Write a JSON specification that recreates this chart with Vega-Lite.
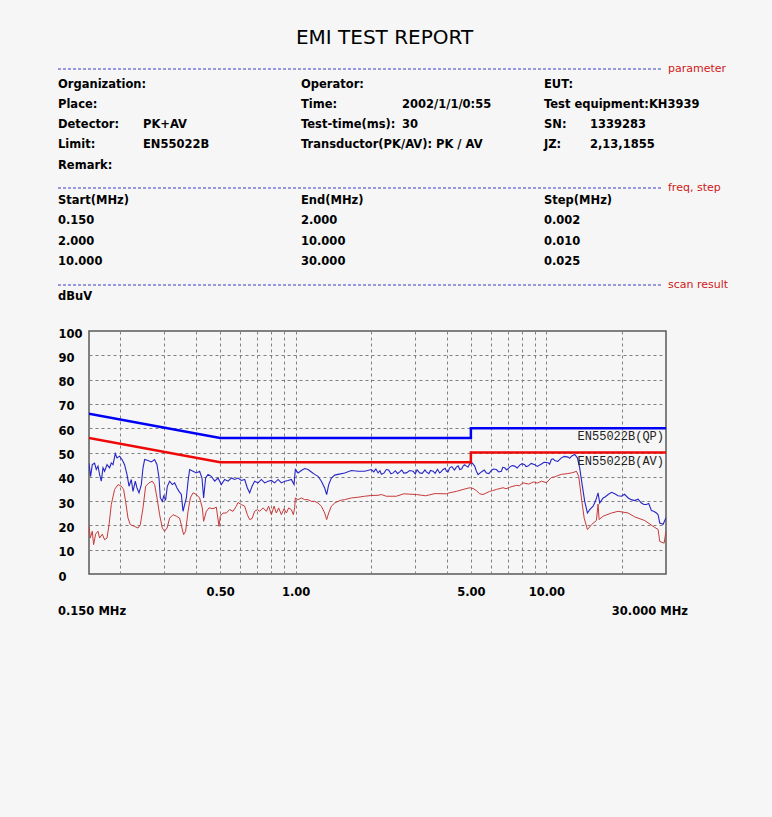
{
  "$schema": "https://vega.github.io/schema/vega-lite/v6.json",
  "background": "#f6f6f6",
  "padding": {"left": 57, "top": 0, "right": 43, "bottom": 200},
  "spacing": 17,
  "config": {"font": "DejaVu Sans", "view": {"stroke": null}},
  "datasets": {
    "header": [
      {"kind": "title", "line": 0, "text": "EMI TEST REPORT"},
      {"kind": "section", "line": 1, "col": 6, "text": "parameter"},
      {"kind": "cell", "line": 2, "col": 0, "text": "Organization:"},
      {"kind": "cell", "line": 2, "col": 2, "text": "Operator:"},
      {"kind": "cell", "line": 2, "col": 4, "text": "EUT:"},
      {"kind": "cell", "line": 3, "col": 0, "text": "Place:"},
      {"kind": "cell", "line": 3, "col": 2, "text": "Time:"},
      {"kind": "cell", "line": 3, "col": 3, "text": "2002/1/1/0:55"},
      {"kind": "cell", "line": 3, "col": 4, "text": "Test equipment:KH3939"},
      {"kind": "cell", "line": 4, "col": 0, "text": "Detector:"},
      {"kind": "cell", "line": 4, "col": 1, "text": "PK+AV"},
      {"kind": "cell", "line": 4, "col": 2, "text": "Test-time(ms):"},
      {"kind": "cell", "line": 4, "col": 3, "text": "30"},
      {"kind": "cell", "line": 4, "col": 4, "text": "SN:"},
      {"kind": "cell", "line": 4, "col": 5, "text": "1339283"},
      {"kind": "cell", "line": 5, "col": 0, "text": "Limit:"},
      {"kind": "cell", "line": 5, "col": 1, "text": "EN55022B"},
      {"kind": "cell", "line": 5, "col": 2, "text": "Transductor(PK/AV): PK / AV"},
      {"kind": "cell", "line": 5, "col": 4, "text": "JZ:"},
      {"kind": "cell", "line": 5, "col": 5, "text": "2,13,1855"},
      {"kind": "cell", "line": 6, "col": 0, "text": "Remark:"},
      {"kind": "section", "line": 7, "col": 6, "text": "freq, step"},
      {"kind": "cell", "line": 8, "col": 0, "text": "Start(MHz)"},
      {"kind": "cell", "line": 8, "col": 2, "text": "End(MHz)"},
      {"kind": "cell", "line": 8, "col": 4, "text": "Step(MHz)"},
      {"kind": "cell", "line": 9, "col": 0, "text": "0.150"},
      {"kind": "cell", "line": 9, "col": 2, "text": "2.000"},
      {"kind": "cell", "line": 9, "col": 4, "text": "0.002"},
      {"kind": "cell", "line": 10, "col": 0, "text": "2.000"},
      {"kind": "cell", "line": 10, "col": 2, "text": "10.000"},
      {"kind": "cell", "line": 10, "col": 4, "text": "0.010"},
      {"kind": "cell", "line": 11, "col": 0, "text": "10.000"},
      {"kind": "cell", "line": 11, "col": 2, "text": "30.000"},
      {"kind": "cell", "line": 11, "col": 4, "text": "0.025"},
      {"kind": "section", "line": 12, "col": 6, "text": "scan result"},
      {"kind": "cell", "line": 13, "col": 0, "text": "dBuV"}
    ],
    "limits": [
      {"lim": "QP", "i": 0, "f": 0.15, "db": 66},
      {"lim": "QP", "i": 1, "f": 0.5, "db": 56},
      {"lim": "QP", "i": 2, "f": 5, "db": 56},
      {"lim": "QP", "i": 3, "f": 5, "db": 60},
      {"lim": "QP", "i": 4, "f": 30, "db": 60},
      {"lim": "AV", "i": 0, "f": 0.15, "db": 56},
      {"lim": "AV", "i": 1, "f": 0.5, "db": 46},
      {"lim": "AV", "i": 2, "f": 5, "db": 46},
      {"lim": "AV", "i": 3, "f": 5, "db": 50},
      {"lim": "AV", "i": 4, "f": 30, "db": 50}
    ],
    "limlabels": [
      {"f": 30, "db": 60, "label": "EN55022B(QP)"},
      {"f": 30, "db": 50, "label": "EN55022B(AV)"}
    ],
    "ends": [
      {"f": 0.15, "db": 0, "label": "0.150 MHz", "side": "L"},
      {"f": 30, "db": 0, "label": "30.000 MHz", "side": "R"}
    ],
    "pk": [
      {"f":0.15,"db":45.5},{"f":0.1522,"db":40.2},{"f":0.1546,"db":45},{"f":0.1579,"db":45.6},{"f":0.1604,"db":43},{"f":0.1629,"db":44.4},{"f":0.1653,"db":41},{"f":0.1679,"db":38.2},{"f":0.1706,"db":43.7},{"f":0.1731,"db":42.3},{"f":0.177,"db":45},{"f":0.1812,"db":43.7},{"f":0.1841,"db":45.7},{"f":0.187,"db":45},{"f":0.191,"db":49.5},{"f":0.194,"db":47.8},{"f":0.1987,"db":48.5},{"f":0.2031,"db":47.1},{"f":0.208,"db":45},{"f":0.2127,"db":40.9},{"f":0.2166,"db":36.1},{"f":0.2212,"db":38.9},{"f":0.2247,"db":34},{"f":0.2295,"db":38.2},{"f":0.2331,"db":35.4},{"f":0.2374,"db":33.4},{"f":0.2425,"db":36.8},{"f":0.2463,"db":43.7},{"f":0.25,"db":47.1},{"f":0.2579,"db":46.7},{"f":0.2658,"db":46.1},{"f":0.274,"db":47.1},{"f":0.2801,"db":45},{"f":0.2853,"db":39.5},{"f":0.2888,"db":31.3},{"f":0.2941,"db":29.9},{"f":0.2977,"db":32},{"f":0.3032,"db":30.6},{"f":0.3079,"db":36.1},{"f":0.3145,"db":38.2},{"f":0.3224,"db":36.8},{"f":0.3293,"db":37.5},{"f":0.3366,"db":35.4},{"f":0.3428,"db":34},{"f":0.3502,"db":32.7},{"f":0.3557,"db":25.8},{"f":0.361,"db":28.6},{"f":0.3667,"db":31.3},{"f":0.3725,"db":38.2},{"f":0.378,"db":43},{"f":0.3899,"db":42.3},{"f":0.4019,"db":41.6},{"f":0.4143,"db":42.3},{"f":0.4234,"db":39.5},{"f":0.4297,"db":31.3},{"f":0.4377,"db":39.5},{"f":0.4475,"db":41},{"f":0.4612,"db":40.2},{"f":0.4754,"db":38.2},{"f":0.4905,"db":39.5},{"f":0.5056,"db":36.8},{"f":0.5212,"db":38.9},{"f":0.5377,"db":38.2},{"f":0.5542,"db":39.5},{"f":0.5713,"db":38.9},{"f":0.5894,"db":39.5},{"f":0.6076,"db":38.5},{"f":0.6264,"db":38.9},{"f":0.642,"db":35.4},{"f":0.6558,"db":33.4},{"f":0.6704,"db":36.1},{"f":0.6866,"db":38.2},{"f":0.7083,"db":37.5},{"f":0.7302,"db":38.9},{"f":0.7526,"db":37.5},{"f":0.7764,"db":38.2},{"f":0.8004,"db":38.5},{"f":0.825,"db":37.5},{"f":0.8513,"db":38.9},{"f":0.8775,"db":37.5},{"f":0.9044,"db":38.2},{"f":0.9332,"db":38.5},{"f":0.9618,"db":38.9},{"f":0.9858,"db":36.8},{"f":0.9977,"db":43},{"f":1.023,"db":41.6},{"f":1.054,"db":42.6},{"f":1.087,"db":43.4},{"f":1.121,"db":43},{"f":1.156,"db":42},{"f":1.191,"db":41},{"f":1.229,"db":40.2},{"f":1.267,"db":38.2},{"f":1.306,"db":35.4},{"f":1.33,"db":32.7},{"f":1.355,"db":36.8},{"f":1.389,"db":39.5},{"f":1.432,"db":40.7},{"f":1.477,"db":41},{"f":1.569,"db":41.6},{"f":1.669,"db":42.6},{"f":1.775,"db":42.3},{"f":1.886,"db":42.3},{"f":2.005,"db":43},{"f":2.132,"db":41.6},{"f":2.198,"db":41},{"f":2.301,"db":43},{"f":2.448,"db":41.6},{"f":2.601,"db":42},{"f":2.766,"db":41.6},{"f":2.941,"db":42.3},{"f":3.125,"db":41.6},{"f":3.322,"db":42},{"f":3.534,"db":42.3},{"f":3.754,"db":41.6},{"f":3.874,"db":43},{"f":3.993,"db":42.3},{"f":4.117,"db":43.7},{"f":4.377,"db":44},{"f":4.513,"db":43},{"f":4.655,"db":44.4},{"f":4.798,"db":44.4},{"f":4.946,"db":45.3},{"f":5.056,"db":45.7},{"f":5.178,"db":44.4},{"f":5.26,"db":42.3},{"f":5.343,"db":40.9},{"f":5.507,"db":42},{"f":5.767,"db":41.6},{"f":6.037,"db":42.6},{"f":6.321,"db":43},{"f":6.618,"db":42.3},{"f":6.822,"db":43.7},{"f":7.142,"db":44},{"f":7.478,"db":44.4},{"f":7.829,"db":44.8},{"f":8.196,"db":45},{"f":8.456,"db":44.4},{"f":8.985,"db":45},{"f":9.556,"db":45.3},{"f":10.16,"db":45.8},{"f":10.47,"db":47.1},{"f":10.8,"db":46.7},{"f":11.48,"db":47.8},{"f":12.21,"db":48.1},{"f":12.59,"db":48.5},{"f":12.98,"db":49.2},{"f":13.3,"db":47.8},{"f":13.58,"db":43.7},{"f":13.89,"db":36.8},{"f":14.22,"db":29.9},{"f":14.58,"db":25.1},{"f":14.89,"db":26.5},{"f":15.36,"db":27.9},{"f":15.69,"db":29.9},{"f":16.08,"db":33.4},{"f":16.32,"db":29.2},{"f":16.84,"db":31.3},{"f":17.63,"db":32.7},{"f":18.74,"db":33},{"f":19.93,"db":32},{"f":21.19,"db":31.3},{"f":22.51,"db":30.2},{"f":23.94,"db":29.2},{"f":25.07,"db":28.6},{"f":26.24,"db":26.1},{"f":27.48,"db":25.1},{"f":28.32,"db":21},{"f":29.22,"db":20.5},{"f":30,"db":23.2},
      {"f":2.05,"db":42.0},{"f":2.09,"db":43.2},{"f":2.17,"db":42.5},{"f":2.25,"db":41.5},{"f":2.35,"db":42.8},{"f":2.4,"db":41.2},{"f":2.5,"db":42.5},{"f":2.55,"db":41.3},{"f":2.65,"db":42.8},{"f":2.7,"db":41.5},{"f":2.85,"db":42.6},{"f":3.0,"db":41.2},{"f":3.05,"db":42.9},{"f":3.2,"db":41.4},{"f":3.28,"db":42.8},{"f":3.4,"db":41.3},{"f":3.45,"db":42.6},{"f":3.6,"db":41.4},{"f":3.68,"db":43.1},{"f":3.8,"db":42.0},{"f":3.95,"db":43.5},{"f":4.05,"db":42.0},{"f":4.2,"db":44.2},{"f":4.3,"db":42.8},{"f":4.45,"db":44.5},{"f":4.6,"db":43.3},{"f":4.72,"db":45.0},{"f":4.87,"db":44.0},
      {"f":5.65,"db":42.8},{"f":5.9,"db":41.3},{"f":6.15,"db":43.2},{"f":6.45,"db":42.0},{"f":6.7,"db":43.9},{"f":6.95,"db":42.8},{"f":7.3,"db":44.6},{"f":7.65,"db":43.6},{"f":8.0,"db":45.4},{"f":8.3,"db":44.2},{"f":8.7,"db":45.5},{"f":9.2,"db":44.3},{"f":9.8,"db":46.0},{"f":10.3,"db":45.2},{"f":10.65,"db":47.4},{"f":11.1,"db":46.3},{"f":11.8,"db":48.4},{"f":12.4,"db":47.6},
      {"f":17.2,"db":31.8},{"f":18.2,"db":33.6},{"f":19.3,"db":32.2},{"f":20.5,"db":32.8},{"f":21.8,"db":30.6},{"f":23.2,"db":30.8},{"f":24.5,"db":28.6},{"f":25.6,"db":29.0},{"f":26.8,"db":25.8},{"f":27.9,"db":24.4}
    ],
    "av": [
      {"f":0.15,"db":20},{"f":0.1518,"db":14.8},{"f":0.1546,"db":17.6},{"f":0.1565,"db":12.1},{"f":0.1594,"db":16.4},{"f":0.1629,"db":17.6},{"f":0.1653,"db":14.8},{"f":0.1695,"db":16.4},{"f":0.1731,"db":14.1},{"f":0.177,"db":14.8},{"f":0.1803,"db":20.3},{"f":0.1841,"db":28.6},{"f":0.1898,"db":34.8},{"f":0.1958,"db":36.8},{"f":0.2018,"db":36.1},{"f":0.2061,"db":34.8},{"f":0.2099,"db":29.9},{"f":0.2146,"db":23},{"f":0.2192,"db":20.3},{"f":0.228,"db":19.6},{"f":0.2352,"db":18.9},{"f":0.2403,"db":20.3},{"f":0.2463,"db":27.2},{"f":0.2523,"db":36.1},{"f":0.2603,"db":37.5},{"f":0.2683,"db":38.2},{"f":0.274,"db":36.8},{"f":0.2801,"db":31.3},{"f":0.2869,"db":24.4},{"f":0.2941,"db":18.9},{"f":0.3004,"db":17.6},{"f":0.3071,"db":18.9},{"f":0.3145,"db":23},{"f":0.3245,"db":24.4},{"f":0.3345,"db":23.8},{"f":0.3447,"db":23},{"f":0.3524,"db":18.9},{"f":0.3576,"db":16.2},{"f":0.3643,"db":17.6},{"f":0.3725,"db":25.8},{"f":0.3804,"db":31.3},{"f":0.3899,"db":33.4},{"f":0.4019,"db":32.7},{"f":0.4143,"db":31.3},{"f":0.4246,"db":27.2},{"f":0.4297,"db":21.7},{"f":0.4406,"db":25.8},{"f":0.4517,"db":27.2},{"f":0.4685,"db":26.9},{"f":0.4829,"db":27.5},{"f":0.4949,"db":19.6},{"f":0.5009,"db":23.8},{"f":0.5135,"db":25.1},{"f":0.5293,"db":25.1},{"f":0.5455,"db":26.5},{"f":0.5629,"db":25.8},{"f":0.5802,"db":27.9},{"f":0.5894,"db":29.4},{"f":0.6076,"db":28.6},{"f":0.6264,"db":27.9},{"f":0.642,"db":24.4},{"f":0.6558,"db":22.4},{"f":0.6704,"db":22.8},{"f":0.6866,"db":25.8},{"f":0.7038,"db":26.5},{"f":0.7189,"db":25.8},{"f":0.7417,"db":27.2},{"f":0.7644,"db":25.8},{"f":0.7807,"db":27.9},{"f":0.8004,"db":24.4},{"f":0.8204,"db":27.9},{"f":0.838,"db":25.1},{"f":0.856,"db":27.2},{"f":0.8775,"db":24.4},{"f":0.8995,"db":26.9},{"f":0.9185,"db":25.1},{"f":0.9383,"db":27.2},{"f":0.9618,"db":26.5},{"f":0.9795,"db":24.4},{"f":0.9914,"db":27.2},{"f":0.9977,"db":31.3},{"f":1.023,"db":30.6},{"f":1.054,"db":31.3},{"f":1.087,"db":30.6},{"f":1.121,"db":30.6},{"f":1.156,"db":29.9},{"f":1.191,"db":29.9},{"f":1.229,"db":29.2},{"f":1.267,"db":27.9},{"f":1.306,"db":25.1},{"f":1.33,"db":22.4},{"f":1.355,"db":25.1},{"f":1.389,"db":27.9},{"f":1.432,"db":29.2},{"f":1.477,"db":29.9},{"f":1.522,"db":30.4},{"f":1.569,"db":30.6},{"f":1.669,"db":31.3},{"f":1.775,"db":31.6},{"f":1.886,"db":32},{"f":2.005,"db":32.3},{"f":2.132,"db":32.4},{"f":2.198,"db":32.7},{"f":2.523,"db":32},{"f":3.032,"db":32.7},{"f":3.993,"db":33},{"f":4.377,"db":34},{"f":4.655,"db":34.8},{"f":4.946,"db":35.5},{"f":5.102,"db":35.2},{"f":5.26,"db":34.3},{"f":5.421,"db":33},{"f":5.594,"db":32.7},{"f":5.943,"db":34},{"f":6.321,"db":34.8},{"f":6.723,"db":35.5},{"f":7.142,"db":35.7},{"f":7.597,"db":36.5},{"f":8.078,"db":37.5},{"f":9.556,"db":38.2},{"f":10.01,"db":37.6},{"f":10.47,"db":39.7},{"f":11.48,"db":41},{"f":12.59,"db":41.6},{"f":13.18,"db":42.3},{"f":13.46,"db":40.2},{"f":13.8,"db":31.3},{"f":14.15,"db":23},{"f":14.58,"db":18.3},{"f":15.13,"db":20.3},{"f":15.83,"db":22},{"f":16.08,"db":28.8},{"f":16.23,"db":22.4},{"f":16.84,"db":23.8},{"f":18.18,"db":25.1},{"f":19.33,"db":25.8},{"f":21.19,"db":25.1},{"f":22.51,"db":23.5},{"f":24.68,"db":22},{"f":26.66,"db":19.6},{"f":27.91,"db":18.3},{"f":28.32,"db":13.4},{"f":29.49,"db":12.7},{"f":30,"db":17.6},
      {"f":2.3,"db":32.0},{"f":2.7,"db":33.0},{"f":3.3,"db":32.2},{"f":3.6,"db":33.1},{"f":4.1,"db":33.4},{"f":6.1,"db":34.3},{"f":6.9,"db":35.1},{"f":7.8,"db":36.3},{"f":8.5,"db":37.0},{"f":8.9,"db":37.9},{"f":9.2,"db":37.4},{"f":10.8,"db":40.0},{"f":11.1,"db":40.5},{"f":12.1,"db":41.3},{"f":12.9,"db":41.9}
    ]
  },
  "vconcat": [
    {
      "width": 574,
      "height": 310,
      "view": {"stroke": null},
      "data": {"name": "header"},
      "encoding": {
        "y": {"field": "line", "type": "quantitative", "axis": null,
              "scale": {"domain": [0,1,2,3,4,5,6,7,8,9,10,11,12,13],
                        "range": [38,69,84.5,104.8,125,145.3,165.5,188,201,221.3,241.6,262,285,297],
                        "nice": false, "zero": false}}
      },
      "layer": [
        {
          "transform": [{"filter": "datum.kind == 'title'"}],
          "mark": {"type": "text", "fontSize": 20, "fontWeight": "normal", "align": "center", "baseline": "middle", "dx": 8.5, "color": "#000000"},
          "encoding": {"text": {"field": "text"}}
        },
        {
          "transform": [{"filter": "datum.kind == 'section'"}],
          "mark": {"type": "rule", "color": "#3a3ac6", "strokeWidth": 1, "strokeDash": [3, 2]},
          "encoding": {
            "x": {"datum": 0, "type": "quantitative", "axis": null,
                  "scale": {"domain": [0,1,2,3,4,5,6], "range": [-31,54,212,313,455,501,579], "nice": false, "zero": false}},
            "x2": {"value": "width"}
          }
        },
        {
          "transform": [{"filter": "datum.kind == 'section'"}],
          "mark": {"type": "text", "align": "left", "baseline": "middle", "fontSize": 11, "color": "#d01818"},
          "encoding": {
            "x": {"field": "col", "type": "quantitative", "axis": null,
                  "scale": {"domain": [0,1,2,3,4,5,6], "range": [-31,54,212,313,455,501,579], "nice": false, "zero": false}},
            "text": {"field": "text"}
          }
        },
        {
          "transform": [{"filter": "datum.kind == 'cell'"}],
          "mark": {"type": "text", "align": "left", "baseline": "middle", "fontSize": 11.5, "fontWeight": "bold", "color": "#000000"},
          "encoding": {
            "x": {"field": "col", "type": "quantitative", "axis": null,
                  "scale": {"domain": [0,1,2,3,4,5,6], "range": [-31,54,212,313,455,501,579], "nice": false, "zero": false}},
            "text": {"field": "text"}
          }
        }
      ]
    },
    {
      "width": 577,
      "height": 243,
      "view": {"stroke": "#5a5a5a", "strokeWidth": 1.5},
      "encoding": {
        "x": {"field": "f", "type": "quantitative",
              "scale": {"type": "log", "domain": [0.15, 30], "nice": false},
              "axis": {"values": [0.2,0.3,0.4,0.5,0.6,0.7,0.8,0.9,1,2,3,4,5,6,7,8,9,10,20],
                       "title": null, "domain": false, "ticks": false, "tickSize": 0,
                       "grid": true, "gridColor": "#808080", "gridDash": [3, 3], "gridWidth": 1,
                       "labelExpr": "datum.value == 0.5 || datum.value == 1 || datum.value == 5 || datum.value == 10 ? format(datum.value, '.2f') : ''",
                       "labelFontSize": 11.5, "labelFontWeight": "bold", "labelColor": "#000000",
                       "labelPadding": 12, "labelFlush": false, "labelOverlap": false}},
        "y": {"field": "db", "type": "quantitative",
              "scale": {"domain": [0, 100], "nice": false},
              "axis": {"values": [0,10,20,30,40,50,60,70,80,90,100],
                       "title": null, "domain": false, "ticks": false, "tickSize": 0,
                       "grid": true, "gridColor": "#808080", "gridDash": [3, 3], "gridWidth": 1,
                       "gridOpacity": {"condition": {"test": "datum.value == 0 || datum.value == 100", "value": 0}, "value": 1},
                       "labelAlign": "left", "labelBaseline": "middle", "labelPadding": 31, "labelOffset": 3,
                       "labelFontSize": 11.5, "labelFontWeight": "bold", "labelColor": "#000000",
                       "labelFlush": false, "labelOverlap": false}}
      },
      "layer": [
        {"data": {"name": "av"}, "mark": {"type": "line", "color": "#c83a3a", "strokeWidth": 1, "clip": true}},
        {"data": {"name": "pk"}, "mark": {"type": "line", "color": "#2626c8", "strokeWidth": 1.1, "clip": true}},
        {
          "data": {"name": "limits"},
          "transform": [{"filter": "datum.lim == 'QP'"}],
          "mark": {"type": "line", "strokeWidth": 2.5, "color": "#0000f5", "clip": true},
          "encoding": {"order": {"field": "i", "type": "quantitative"}}
        },
        {
          "data": {"name": "limits"},
          "transform": [{"filter": "datum.lim == 'AV'"}],
          "mark": {"type": "line", "strokeWidth": 2.5, "color": "#ee0808", "clip": true},
          "encoding": {"order": {"field": "i", "type": "quantitative"}}
        },
        {
          "data": {"name": "limlabels"},
          "mark": {"type": "text", "font": "Liberation Mono", "fontSize": 12, "align": "right", "baseline": "top", "dx": -2, "dy": 3, "color": "#222222"},
          "encoding": {"text": {"field": "label"}}
        },
        {
          "data": {"name": "ends"},
          "transform": [{"filter": "datum.side == 'L'"}],
          "mark": {"type": "text", "fontSize": 11.5, "fontWeight": "bold", "align": "left", "baseline": "middle", "dx": -31, "dy": 38, "color": "#000000"},
          "encoding": {"text": {"field": "label"}}
        },
        {
          "data": {"name": "ends"},
          "transform": [{"filter": "datum.side == 'R'"}],
          "mark": {"type": "text", "fontSize": 11.5, "fontWeight": "bold", "align": "right", "baseline": "middle", "dx": 22, "dy": 38, "color": "#000000"},
          "encoding": {"text": {"field": "label"}}
        }
      ]
    }
  ]
}
